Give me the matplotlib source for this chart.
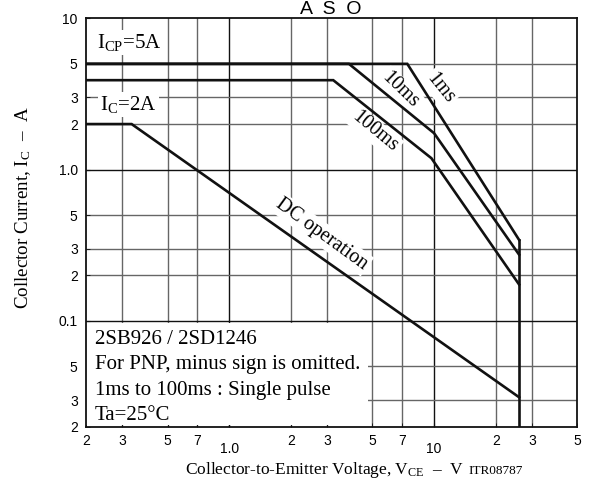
#ASO (area of safe operation) chart for 2SB926 / 2SD1246

import matplotlib
matplotlib.use('Agg')
import matplotlib.pyplot as plt
from matplotlib.patches import Rectangle

plt.rcParams['mathtext.fontset'] = 'custom'
plt.rcParams['mathtext.rm'] = 'Liberation Serif'
plt.rcParams['mathtext.it'] = 'Liberation Serif:italic'

#curves (V, A)
ms1_v = [0.2, 7.4, 26]
ms1_i = [5, 5, 0.343]
ms10_v = [0.2, 3.84, 10, 26]
ms10_i = [5, 5, 1.74, 0.274]
ms100_v = [0.2, 3.22, 9.7, 26]
ms100_i = [3.9, 3.9, 1.19, 0.174]
dc_v = [0.2, 0.334, 26]
dc_i = [2, 2, 0.0313]
vceo_v = [26, 26]
vceo_i = [0.343, 0.02]

#ticks
x_major = [1, 10]
x_major_lbl = ['1.0', '10']
x_minor = [0.2, 0.3, 0.5, 0.7, 2, 3, 5, 7, 20, 30, 50]
x_minor_lbl = ['2', '3', '5', '7', '2', '3', '5', '7', '2', '3', '5']
y_major = [0.1, 1, 10]
y_major_lbl = ['0.1', '1.0', '10']
y_minor = [0.02, 0.03, 0.05, 0.2, 0.3, 0.5, 2, 3, 5]
y_minor_lbl = ['2', '3', '5', '2', '3', '5', '2', '3', '5']

notes = ['2SB926 / 2SD1246',
         'For PNP, minus sign is omitted.',
         '1ms to 100ms : Single pulse',
         'Ta=25\u00b0C']

fig = plt.figure(figsize=(5.99, 4.84), dpi=100)
ax = fig.add_axes([86/599, 1-426.7/484, 491.3/599, 408.4/484])
ax.set_xscale('log')
ax.set_yscale('log')
ax.set_xlim(0.2, 50)
ax.set_ylim(0.02, 10)

#grid drawn by hand so the note box can hide it
for v in x_major:
    ax.axvline(v, color='#111111', lw=1.0, zorder=1)
for v in x_minor[1:-1]:
    ax.axvline(v, color='#666666', lw=1.0, zorder=1)
for v in y_major[:-1]:
    ax.axhline(v, color='#111111', lw=1.0, zorder=1)
for v in y_minor[1:]:
    ax.axhline(v, color='#666666', lw=1.0, zorder=1)

ax.add_patch(Rectangle((0, 0.004), 0.574, 0.25, transform=ax.transAxes,
                       facecolor='white', edgecolor='none', zorder=2))

#limit curves
for xs, ys in [(ms1_v, ms1_i), (ms10_v, ms10_i), (ms100_v, ms100_i),
               (dc_v, dc_i), (vceo_v, vceo_i)]:
    ax.plot(xs, ys, color='#111111', lw=1.9, solid_joinstyle='miter', zorder=3)

ax.set_xticks(x_major)
ax.set_xticklabels(x_major_lbl)
ax.set_xticks(x_minor, minor=True)
ax.set_xticklabels(x_minor_lbl, minor=True)
ax.set_yticks(y_major)
ax.set_yticklabels(y_major_lbl)
ax.set_yticks(y_minor, minor=True)
ax.set_yticklabels(y_minor_lbl, minor=True)
ax.tick_params(axis='both', which='both', direction='in', length=3,
               labelsize=10, color='#111111')
ax.tick_params(axis='x', which='minor', pad=5)
ax.tick_params(axis='x', which='major', pad=11)
ax.tick_params(axis='y', which='both', pad=6)
for lbl in ax.get_xticklabels(which='both') + ax.get_yticklabels(which='both'):
    lbl.set_fontfamily('Liberation Sans')
for s in ax.spines.values():
    s.set_linewidth(1.3)
    s.set_color('#111111')
    s.set_zorder(4)

serif = 'Liberation Serif'
box = dict(facecolor='white', edgecolor='none', pad=1.5)

ax.text(0.0224, 0.927, 'I$_{\\rm CP}$=5A', transform=ax.transAxes, family=serif,
        fontsize=15, va='baseline', ha='left', bbox=box, zorder=2.5)
ax.text(0.0285, 0.775, 'I$_{\\rm C}$=2A', transform=ax.transAxes, family=serif,
        fontsize=15, va='baseline', ha='left', bbox=box, zorder=2.5)
for txt, x, y, rot in [('1ms', 0.7205, 0.829, -51),
                       ('10ms', 0.639, 0.8245, -44),
                       ('100ms', 0.588, 0.7216, -39.5),
                       ('DC operation', 0.480, 0.4718, -36)]:
    ax.text(x, y, txt, transform=ax.transAxes, family=serif, fontsize=14.5,
            rotation=rot, rotation_mode='anchor', ha='center', va='center',
            bbox=box, zorder=2.5)

for k, line in enumerate(notes):
    ax.text(0.0183, (426.7-344-25.3*k)/408.4, line, transform=ax.transAxes,
            family=serif, fontsize=15, va='baseline', ha='left', zorder=2.6)

fig.text(331/599, 1-14.5/484, 'A  S  O', family='Liberation Sans', fontsize=14,
         ha='center', va='baseline')
fig.text(23/599, 1-208/484, 'Collector Current, I$_{\\rm C}$  \u2013  A',
         family=serif, fontsize=13.7, rotation=90, ha='center', va='center')
fig.text(324/599, 1-474/484, 'Collector-to-Emitter Voltage, V$_{\\rm CE}$  \u2013  V',
         family=serif, fontsize=12.5, ha='center', va='baseline')
fig.text(468/599, 1-474/484, 'ITR08787', family=serif, fontsize=9.5,
         ha='left', va='baseline')

fig.savefig('out.png', dpi=100)
